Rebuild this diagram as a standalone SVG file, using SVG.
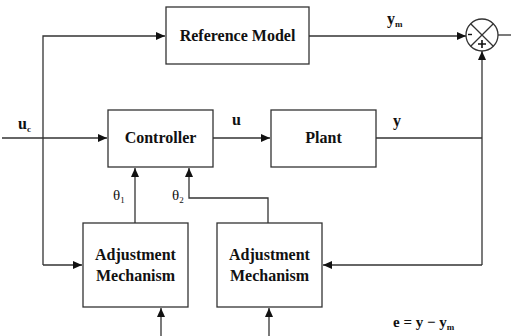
<svg xmlns="http://www.w3.org/2000/svg" width="511" height="336" viewBox="0 0 511 336">
  <style>
    .box { fill: #ffffff; stroke: #333333; stroke-width: 1.3; }
    .wire { fill: none; stroke: #333333; stroke-width: 1.3; }
  </style>
  <defs>
    <marker id="arrow" markerWidth="9" markerHeight="8" refX="9" refY="4" orient="auto" markerUnits="userSpaceOnUse">
      <path d="M0,0 L9,4 L0,8 Z" fill="#111111"/>
    </marker>
  </defs>

  <rect width="511" height="336" fill="#ffffff"/>

  <!-- connectors -->
  <g id="connectors">
    <!-- input u_c -->
    <path class="wire" d="M2,138 H107" marker-end="url(#arrow)"/>
    <!-- branch of u_c to reference model -->
    <path class="wire" d="M43,265 V36 H165" marker-end="url(#arrow)"/>
    <!-- branch of u_c to first adjustment block -->
    <path class="wire" d="M43,265 H82" marker-end="url(#arrow)"/>
    <!-- u : controller to plant -->
    <path class="wire" d="M213,138 H270" marker-end="url(#arrow)"/>
    <!-- y : plant output -->
    <path class="wire" d="M376,138 H482"/>
    <!-- y into summing junction -->
    <path class="wire" d="M482,265 V51" marker-end="url(#arrow)"/>
    <!-- ym into summing junction -->
    <path class="wire" d="M309,36 H466" marker-end="url(#arrow)"/>
    <!-- error output -->
    <path class="wire" d="M498,35 H511"/>
    <!-- error feedback to second adjustment block -->
    <path class="wire" d="M482,265 H323" marker-end="url(#arrow)"/>
    <!-- theta1 -->
    <path class="wire" d="M135,223 V168" marker-end="url(#arrow)"/>
    <!-- theta2 -->
    <path class="wire" d="M268,223 V198 H189 V168" marker-end="url(#arrow)"/>
    <!-- external inputs to adjustment blocks -->
    <path class="wire" d="M161,336 V308" marker-end="url(#arrow)"/>
    <path class="wire" d="M269,336 V308" marker-end="url(#arrow)"/>
  </g>

  <!-- nodes -->
  <g id="reference-model">
    <rect class="box" x="166" y="7" width="143" height="57"/>
    <text x="237.5" y="41" font-family="Liberation Serif, Times New Roman, serif" font-weight="bold" font-size="16" text-anchor="middle" fill="#111111">Reference Model</text>
  </g>

  <g id="controller">
    <rect class="box" x="108" y="110" width="105" height="57"/>
    <text x="160.5" y="143" font-family="Liberation Serif, Times New Roman, serif" font-weight="bold" font-size="16" text-anchor="middle" fill="#111111">Controller</text>
  </g>

  <g id="plant">
    <rect class="box" x="271" y="110" width="105" height="57"/>
    <text x="323.5" y="143" font-family="Liberation Serif, Times New Roman, serif" font-weight="bold" font-size="16" text-anchor="middle" fill="#111111">Plant</text>
  </g>

  <g id="adjustment-1">
    <rect class="box" x="83" y="223" width="105" height="84"/>
    <text x="135.5" y="260" font-family="Liberation Serif, Times New Roman, serif" font-weight="bold" font-size="16" text-anchor="middle" fill="#111111">Adjustment</text>
    <text x="135.5" y="281" font-family="Liberation Serif, Times New Roman, serif" font-weight="bold" font-size="16" text-anchor="middle" fill="#111111">Mechanism</text>
  </g>

  <g id="adjustment-2">
    <rect class="box" x="217" y="223" width="105" height="84"/>
    <text x="269.5" y="260" font-family="Liberation Serif, Times New Roman, serif" font-weight="bold" font-size="16" text-anchor="middle" fill="#111111">Adjustment</text>
    <text x="269.5" y="281" font-family="Liberation Serif, Times New Roman, serif" font-weight="bold" font-size="16" text-anchor="middle" fill="#111111">Mechanism</text>
  </g>

  <g id="summing-junction">
    <circle cx="482" cy="35" r="16" fill="#ffffff" stroke="#333333" stroke-width="1.3"/>
    <path class="wire" d="M470.7,23.7 L493.3,46.3 M493.3,23.7 L470.7,46.3"/>
    <path d="M468,34.5 H472" stroke="#111111" stroke-width="1.4"/>
    <path d="M478,44 H486 M482,40 V48" stroke="#111111" stroke-width="1.6"/>
  </g>

  <!-- signal labels -->
  <g id="labels">
    <text x="18" y="129" font-family="Liberation Serif, Times New Roman, serif" font-weight="bold" font-size="16" fill="#111111">u<tspan font-size="9" dy="3">c</tspan></text>
    <text x="232" y="125" font-family="Liberation Serif, Times New Roman, serif" font-weight="bold" font-size="16" fill="#111111">u</text>
    <text x="393" y="126" font-family="Liberation Serif, Times New Roman, serif" font-weight="bold" font-size="16" fill="#111111">y</text>
    <text x="387" y="24" font-family="Liberation Serif, Times New Roman, serif" font-weight="bold" font-size="16" fill="#111111">y<tspan font-size="9" dy="3">m</tspan></text>
    <text x="113" y="200" font-family="Liberation Serif, Times New Roman, serif" font-size="15" fill="#111111">θ<tspan font-size="9" dy="3">1</tspan></text>
    <text x="172" y="200" font-family="Liberation Serif, Times New Roman, serif" font-size="15" fill="#111111">θ<tspan font-size="9" dy="3">2</tspan></text>
    <text x="393" y="327" font-family="Liberation Serif, Times New Roman, serif" font-weight="bold" font-size="15" fill="#111111">e = y − y<tspan font-size="9" dy="3">m</tspan></text>
  </g>
</svg>
